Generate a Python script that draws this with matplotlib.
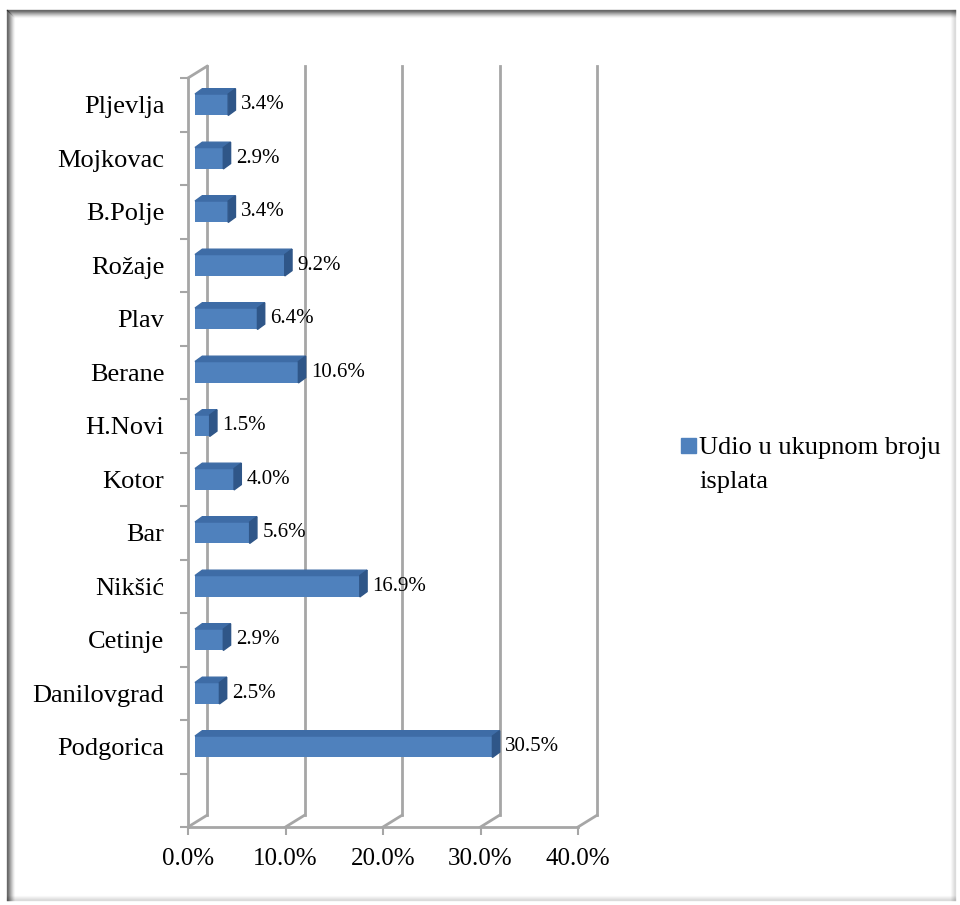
import matplotlib.pyplot as plt
from matplotlib.patches import Polygon, Rectangle
from matplotlib.lines import Line2D

# data, bottom to top
cities = ["Podgorica", "Danilovgrad", "Cetinje", "Nikšić", "Bar", "Kotor", "H.Novi",
          "Berane", "Plav", "Rožaje", "B.Polje", "Mojkovac", "Pljevlja"]
shares = [30.5, 2.5, 2.9, 16.9, 5.6, 4.0, 1.5, 10.6, 6.4, 9.2, 3.4, 2.9, 3.4]
xticks = [0, 10, 20, 30, 40]
legend_lines = ["Udio u ukupnom broju", "isplata"]

plt.rcParams['font.family'] = ['Liberation Serif', 'DejaVu Serif']

W, H = 960, 905
fig = plt.figure(figsize=(W / 100, H / 100), dpi=100)
fig.patch.set_facecolor("white")

# shadowed frame around the chart
def px(x, y):
    return x / W, 1 - y / H

for i in range(8):
    a = 0.55 * (1 - i / 8) ** 1.5
    fig.add_artist(Line2D([px(7 + i, 0)[0]] * 2, [px(0, 10 + i)[1], px(0, 900)[1]],
                          color="black", alpha=a, lw=1, transform=fig.transFigure))
    fig.add_artist(Line2D([px(7 + i, 0)[0], px(955, 0)[0]], [px(0, 10 + i)[1]] * 2,
                          color="black", alpha=a, lw=1, transform=fig.transFigure))
for i in range(5):
    a = 0.12 * (1 - i / 5)
    fig.add_artist(Line2D([px(955 - i, 0)[0]] * 2, [px(0, 10)[1], px(0, 900)[1]],
                          color="black", alpha=a, lw=1, transform=fig.transFigure))
    fig.add_artist(Line2D([px(7, 0)[0], px(955, 0)[0]], [px(0, 900 - i)[1]] * 2,
                          color="black", alpha=a, lw=1, transform=fig.transFigure))

ax = fig.add_axes([188 / W, 1 - 827 / H, 390 / W, 749 / H])
ax.set_xlim(0, 40)
ax.set_ylim(0, len(cities) + 1)
for s in ax.spines.values():
    s.set_visible(False)

grey = "#A6A6A6"
dx, dy = 1.95, 0.22      # back wall depth offset (data units)
top = len(cities) + 1

# back wall and floor
for x in xticks:
    ax.plot([x + dx, x + dx], [dy, top + dy], color=grey, lw=2, clip_on=False, zorder=1)
    ax.plot([x, x + dx], [0, dy], color=grey, lw=2, clip_on=False, zorder=1)
ax.plot([0, dx], [top, top + dy], color=grey, lw=2, clip_on=False, zorder=1)
# front axes
ax.plot([0, 0], [0, top], color=grey, lw=2, clip_on=False, zorder=2)
ax.plot([0, 40], [0, 0], color=grey, lw=2, clip_on=False, zorder=2)

# 3D-looking bars
pos = [i + 1.5 for i in range(len(cities))]
h = 0.4
ox = 0.72
bdx, bdy = 0.75, 0.1
bars = ax.barh(pos, shares, left=ox, height=h, color="#4F81BD", zorder=3)
for y, v in zip(pos, shares):
    x0, x1 = ox, ox + v
    y0, y1 = y - h / 2, y + h / 2
    ax.add_patch(Polygon([(x0, y1), (x1, y1), (x1 + bdx, y1 + bdy), (x0 + bdx, y1 + bdy)],
                         closed=True, color="#3E6CA6", zorder=3, clip_on=False))
    ax.add_patch(Polygon([(x1, y0), (x1 + bdx, y0 + bdy), (x1 + bdx, y1 + bdy), (x1, y1)],
                         closed=True, color="#2F5688", zorder=3, clip_on=False))
    ax.text(x1 + bdx + 0.55, y, f"{v:.1f}%", ha="left", va="center", fontsize=15,
            zorder=4)

ax.set_xticks(xticks)
ax.set_xticklabels([f"{x:.1f}%" for x in xticks], fontsize=18)
ax.tick_params(axis="x", length=6, width=1.5, color=grey, pad=9)
ax.set_yticks(range(0, top + 1))
ax.set_yticklabels([])
ax.tick_params(axis="y", which="major", length=6, width=1.5, color=grey)
ax.set_yticks(pos, minor=True)
ax.set_yticklabels(cities, minor=True, fontsize=19)
ax.tick_params(axis="y", which="minor", length=0, pad=17)

# legend
fig.add_artist(Rectangle(px(681, 453), 15 / W, 15 / H, color="#4F81BD",
                         transform=fig.transFigure))
for line, base in zip(legend_lines, [454, 488]):
    fig.text(*px(699, base), line, fontsize=19, ha="left", va="baseline")

fig.savefig("out.png", dpi=100)
